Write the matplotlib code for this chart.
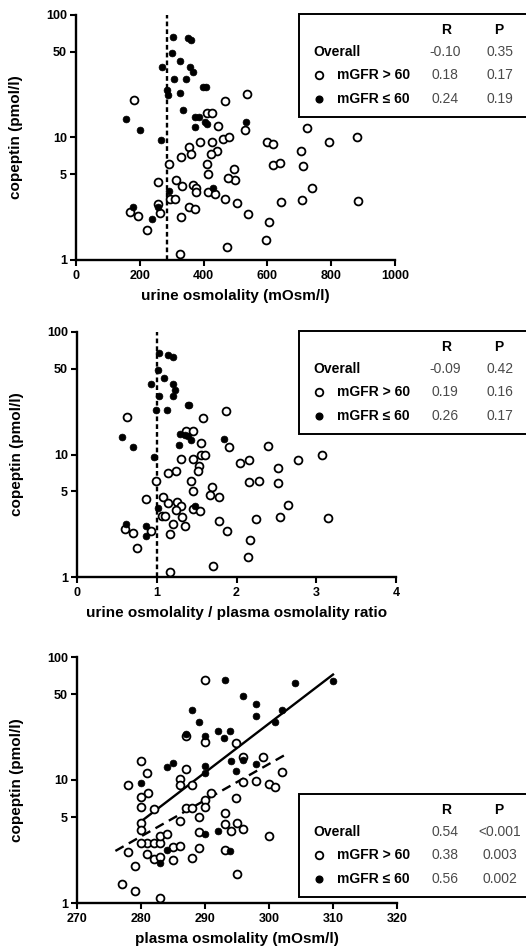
import matplotlib
matplotlib.use('Agg')
from matplotlib import pyplot as plt
from matplotlib.patches import Rectangle
from matplotlib.ticker import FixedLocator, FixedFormatter, NullLocator

plt.rcParams['font.family'] = ['Liberation Sans', 'DejaVu Sans']
plt.rcParams['font.weight'] = 'bold'

# Panel 1: urine osmolality (mOsm/l) vs copeptin (pmol/l)
uosm_hi_x = [182, 466, 535, 410, 426, 446, 530, 723, 880, 793, 600, 616, 705, 713, 619, 640,
             462, 479, 389, 426, 441, 422, 354, 361, 329, 290, 410, 415, 495, 498, 477, 256,
             315, 333, 368, 376, 375, 413, 436, 467, 506, 643, 707, 739, 883, 295, 310, 355,
             373, 258, 169, 195, 263, 329, 538, 606, 222, 595, 474, 327]
uosm_hi_y = [20.2, 19.9, 22.8, 15.8, 15.8, 12.4, 11.5, 11.9, 10.0, 9.25, 9.25, 8.8, 7.8, 5.9, 6.0, 6.15,
             9.8, 10.0, 9.25, 9.25, 7.76, 7.3, 8.4, 7.3, 6.98, 6.08, 6.08, 5.0, 5.5, 4.5, 4.65, 4.36,
             4.5, 4.02, 4.1, 3.85, 3.57, 3.61, 3.46, 3.15, 2.9, 2.99, 3.09, 3.9, 3.05, 3.15, 3.15, 2.72,
             2.61, 2.87, 2.48, 2.29, 2.4, 2.26, 2.36, 2.03, 1.76, 1.46, 1.27, 1.12]
uosm_lo_x = [303, 352, 362, 301, 326, 269, 358, 366, 307, 345, 399, 409, 284, 287, 326, 336,
             156, 373, 387, 404, 412, 532, 202, 373, 268, 292, 431, 178, 256, 239]
uosm_lo_y = [66.5, 64.5, 62.5, 48.7, 42.0, 37.9, 37.9, 34.3, 29.9, 29.9, 25.7, 25.7, 24.4, 22.2, 23.2, 16.8,
             14.1, 14.6, 14.6, 13.5, 12.9, 13.3, 11.5, 12.1, 9.5, 3.68, 3.85, 2.72, 2.72, 2.16]

# Panel 2: urine / plasma osmolality ratio vs copeptin
ratio_hi_x = [0.63, 1.87, 1.58, 1.37, 1.45, 1.55, 1.90, 2.40, 3.07, 2.77, 2.04, 2.16, 2.52, 2.52, 2.16, 2.28,
              1.55, 1.60, 1.31, 1.46, 1.53, 1.52, 1.24, 1.14, 0.99, 1.43, 1.45, 1.69, 1.67, 1.78, 0.87, 1.08,
              1.14, 1.26, 1.31, 1.24, 1.32, 1.46, 1.54, 1.06, 1.10, 1.35, 1.21, 1.78, 2.24, 2.54, 2.64, 3.15,
              1.88, 2.17, 2.15, 1.70, 1.16, 0.60, 0.70, 0.93, 0.75, 1.16]
ratio_hi_y = [20.2, 22.8, 19.9, 15.7, 15.7, 12.4, 11.5, 11.8, 10.0, 9.1, 8.6, 9.1, 7.8, 5.85, 5.97, 6.04,
              9.85, 10.0, 9.2, 9.2, 8.0, 7.3, 7.3, 7.0, 6.04, 6.04, 5.0, 5.43, 4.64, 4.47, 4.33, 4.5,
              4.02, 4.06, 3.77, 3.5, 3.09, 3.59, 3.44, 3.13, 3.13, 2.62, 2.71, 2.88, 2.97, 3.07, 3.87, 3.03,
              2.36, 2.02, 1.45, 1.24, 1.10, 2.47, 2.29, 2.39, 1.72, 2.24]
ratio_lo_x = [1.03, 1.14, 1.21, 1.02, 1.09, 0.93, 1.20, 1.23, 1.21, 1.03, 1.39, 1.41, 0.99, 1.13,
              1.29, 1.35, 1.39, 1.43, 1.28, 0.56, 0.70, 1.84, 0.97, 1.01, 1.48, 0.62, 0.87, 0.86]
ratio_lo_y = [67.4, 65.3, 62.5, 48.7, 42.0, 37.9, 37.9, 33.8, 30.2, 29.9, 25.5, 25.5, 23.2, 23.2,
              14.8, 14.5, 14.1, 13.1, 12.0, 13.9, 11.5, 13.4, 9.5, 3.66, 3.82, 2.72, 2.62, 2.15]

# Panel 3: plasma osmolality (mOsm/l) vs copeptin
posm_hi_x = [290, 287, 290, 294.9, 280, 299, 296, 281, 302, 278, 286.1, 286.1, 287, 288, 296, 298,
             300, 301, 281.1, 280, 280, 282, 291, 290, 290, 287, 288, 294.9, 293.1, 286.1, 289, 280,
             280, 281, 280, 282, 283, 283, 284, 289, 293.1, 294, 295, 296, 300, 285, 286.1, 289,
             293.1, 278, 281, 282, 283, 285, 288, 279, 295, 277.1, 279, 283]
posm_hi_y = [65.3, 22.6, 20.2, 19.9, 14.3, 15.5, 15.5, 11.3, 11.7, 9.1, 10.1, 9.1, 12.3, 9.1, 9.6, 9.9,
             9.2, 8.7, 7.8, 7.3, 6.06, 5.8, 7.8, 6.87, 6.0, 5.95, 5.95, 7.2, 5.42, 4.63, 4.96, 4.49,
             3.91, 3.08, 3.08, 3.08, 3.08, 3.5, 3.61, 3.79, 4.38, 3.86, 4.43, 3.99, 3.5, 2.83, 2.93, 2.81,
             2.69, 2.6, 2.48, 2.26, 2.37, 2.23, 2.34, 2.0, 1.73, 1.44, 1.25, 1.10]
posm_lo_x = [293.1, 310, 304, 296, 298, 288, 302, 298, 289, 301, 287, 292, 293.9, 290, 293,
             285, 284, 290, 290, 294, 296, 298, 294.9, 280, 290, 292, 284, 293.9, 283]
posm_lo_y = [65.3, 64.1, 61.4, 47.8, 41.4, 37.2, 37.2, 33.3, 29.5, 29.5, 23.7, 25.1, 25.1, 22.8, 21.9,
             13.7, 12.8, 13.1, 11.3, 14.4, 14.6, 13.5, 11.9, 9.4, 3.63, 3.84, 2.72, 2.66, 2.12]

fit_lo_x = [280, 310]
fit_lo_y = [4.6, 72]
fit_hi_x = [276, 302.5]
fit_hi_y = [2.65, 16]

stats_rows = ['Overall', 'mGFR > 60', 'mGFR \u2264 60']
stats_r = [['-0.10', '0.18', '0.24'], ['-0.09', '0.19', '0.26'], ['0.54', '0.38', '0.56']]
stats_p = [['0.35', '0.17', '0.19'], ['0.42', '0.16', '0.17'], ['<0.001', '0.003', '0.002']]

y_ticks = [1, 5, 10, 50, 100]

W, H = 526, 950
fig = plt.figure(figsize=(W / 100, H / 100), dpi=100)


def px(x, y):
    return x / W, 1 - y / H


def setup_axes(rect, xlim, xticks, xlabel):
    ax = fig.add_axes(rect)
    ax.set_yscale('log')
    ax.set_ylim(1, 100)
    ax.set_xlim(*xlim)
    ax.yaxis.set_major_locator(FixedLocator(y_ticks))
    ax.yaxis.set_major_formatter(FixedFormatter([str(t) for t in y_ticks]))
    ax.yaxis.set_minor_locator(NullLocator())
    ax.set_xticks(xticks)
    ax.set_xticklabels([str(t) for t in xticks])
    for s in ['top', 'right']:
        ax.spines[s].set_visible(False)
    for s in ['left', 'bottom']:
        ax.spines[s].set_linewidth(1.7)
    ax.tick_params(direction='out', length=4, width=1.5, labelsize=9)
    ax.tick_params(axis='x', pad=3)
    ax.tick_params(axis='y', pad=2.5)
    ax.set_xlabel(xlabel, fontsize=11, fontweight='bold')
    ax.set_ylabel('copeptin (pmol/l)', fontsize=11, fontweight='bold')
    ax.xaxis.set_label_coords(0.5, -0.118)
    ax.yaxis.set_label_coords(-0.165, 0.5)
    ax.patch.set_alpha(0)
    return ax


def points(ax, hx, hy, lx, ly):
    ax.scatter(hx, hy, s=32, facecolor='white', edgecolor='black', linewidth=1.3, zorder=3, clip_on=False)
    ax.scatter(lx, ly, s=24, facecolor='black', edgecolor='black', linewidth=0.5, zorder=4, clip_on=False)


def stats_box(top, r_vals, p_vals):
    x0, y0 = px(299, top)
    x1, y1 = px(535, top + 103)
    fig.patches.append(Rectangle((x0, y1), x1 - x0, y0 - y1, transform=fig.transFigure,
                                 facecolor='white', edgecolor='black', linewidth=1.4, zorder=5))
    fig.text(*px(446, top + 16), 'R', ha='center', va='center', fontsize=10, fontweight='bold', zorder=6)
    fig.text(*px(499, top + 16), 'P', ha='center', va='center', fontsize=10, fontweight='bold', zorder=6)
    row_y = [top + 38, top + 61, top + 85]
    for i, name in enumerate(stats_rows):
        lx = 313 if i == 0 else 337
        fig.text(*px(lx, row_y[i]), name, ha='left', va='center', fontsize=10, fontweight='bold', zorder=6)
        fig.text(*px(445, row_y[i]), r_vals[i], ha='center', va='center', fontsize=10,
                 fontweight='normal', color='#4a4a4a', zorder=6)
        fig.text(*px(500, row_y[i]), p_vals[i], ha='center', va='center', fontsize=10,
                 fontweight='normal', color='#4a4a4a', zorder=6)
    mx, my = px(319, row_y[1])
    fig.lines.append(plt.Line2D([mx], [my], transform=fig.transFigure, marker='o', markersize=5.5,
                                markerfacecolor='white', markeredgecolor='black', markeredgewidth=1.3, zorder=6))
    mx, my = px(319, row_y[2])
    fig.lines.append(plt.Line2D([mx], [my], transform=fig.transFigure, marker='o', markersize=4.8,
                                markerfacecolor='black', markeredgecolor='black', zorder=6))


# Panel 1
ax1 = setup_axes([76 / W, 1 - 260 / H, 319 / W, 245 / H], (0, 1000), [0, 200, 400, 600, 800, 1000],
                 'urine osmolality (mOsm/l)')
ax1.axvline(285, color='black', linewidth=1.7, linestyle=(0, (2, 1.3)), zorder=2)
points(ax1, uosm_hi_x, uosm_hi_y, uosm_lo_x, uosm_lo_y)
stats_box(14, stats_r[0], stats_p[0])

# Panel 2
ax2 = setup_axes([77 / W, 1 - 577 / H, 319 / W, 245 / H], (0, 4), [0, 1, 2, 3, 4],
                 'urine osmolality / plasma osmolality ratio')
ax2.axvline(1, color='black', linewidth=1.7, linestyle=(0, (2, 1.3)), zorder=2)
points(ax2, ratio_hi_x, ratio_hi_y, ratio_lo_x, ratio_lo_y)
stats_box(331, stats_r[1], stats_p[1])

# Panel 3
ax3 = setup_axes([77 / W, 1 - 903 / H, 320 / W, 246 / H], (270, 320), [270, 280, 290, 300, 310, 320],
                 'plasma osmolality (mOsm/l)')
ax3.plot(fit_lo_x, fit_lo_y, color='black', linewidth=1.7, zorder=2)
ax3.plot(fit_hi_x, fit_hi_y, color='black', linewidth=1.7, linestyle=(0, (4, 2.5)), zorder=2)
points(ax3, posm_hi_x, posm_hi_y, posm_lo_x, posm_lo_y)
stats_box(794, stats_r[2], stats_p[2])

fig.savefig('out.png', dpi=100)
